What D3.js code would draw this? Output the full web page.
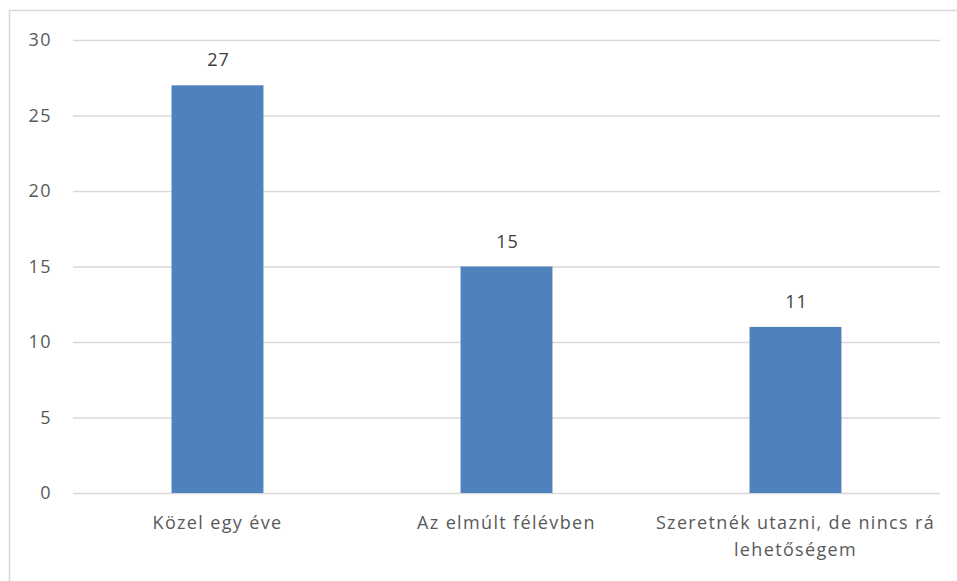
<!DOCTYPE html>
<html>
<head>
<meta charset="utf-8">
<script src="https://cdn.jsdelivr.net/npm/d3@7"></script>
<style>
  body { margin: 0; background: #fff; }
  text { font-family: "Open Sans", Lato, sans-serif; }
</style>
</head>
<body>
<script>
// Chart data
var categories = ["Közel egy éve", "Az elmúlt félévben", "Szeretnék utazni, de nincs rá lehetőségem"];
var categoryLines = [["Közel egy éve"], ["Az elmúlt félévben"], ["Szeretnék utazni, de nincs rá", "lehetőségem"]];
var values = [27, 15, 11];
var yTicks = [0, 5, 10, 15, 20, 25, 30];

var width = 957, height = 581;
var plot = { left: 73, right: 940, top: 40, bottom: 493 };

var svg = d3.select("body").append("svg")
  .attr("width", width)
  .attr("height", height);

// Chart border (runs off the bottom and right of the picture)
svg.append("rect")
  .attr("x", 9.5)
  .attr("y", 10.5)
  .attr("width", 980)
  .attr("height", 600)
  .attr("fill", "none")
  .attr("stroke", "#d9d9d9")
  .attr("stroke-width", 1.5);

var x = d3.scaleBand()
  .domain(categories)
  .range([plot.left, plot.right])
  .paddingInner(0.682)
  .paddingOuter(0.341);

var y = d3.scaleLinear()
  .domain([0, 30])
  .range([plot.bottom, plot.top]);

// Gridlines
svg.append("g")
  .selectAll("line")
  .data(yTicks)
  .join("line")
  .attr("x1", plot.left)
  .attr("x2", plot.right)
  .attr("y1", function(d) { return y(d) + 0.5; })
  .attr("y2", function(d) { return y(d) + 0.5; })
  .attr("stroke", "#d9d9d9")
  .attr("stroke-width", 1.3);

// Y axis labels
var yAxis = d3.axisLeft(y).tickValues(yTicks).tickSize(0).tickPadding(0);
var gy = svg.append("g")
  .attr("transform", "translate(" + (plot.left - 21) + ",0)")
  .call(yAxis);
gy.select(".domain").remove();
gy.selectAll("text")
  .attr("fill", "#595959")
  .style("font-size", "18px")
  .style("letter-spacing", "1.5px")
  .style("font-family", "'Open Sans', Lato, sans-serif");

// Bars
svg.append("g")
  .selectAll("rect")
  .data(values)
  .join("rect")
  .attr("x", function(d, i) { return x(categories[i]); })
  .attr("y", function(d) { return y(d); })
  .attr("width", x.bandwidth())
  .attr("height", function(d) { return y(0) - y(d); })
  .attr("fill", "#4f81bd");

// Value labels
svg.append("g")
  .selectAll("text")
  .data(values)
  .join("text")
  .attr("x", function(d, i) { return x(categories[i]) + x.bandwidth() / 2 + 1; })
  .attr("y", function(d) { return y(d) - 19; })
  .attr("text-anchor", "middle")
  .attr("fill", "#404040")
  .style("font-size", "18px")
  .style("letter-spacing", "1px")
  .text(function(d) { return d; });

// Category labels
var xg = svg.append("g");
categories.forEach(function(c, i) {
  var t = xg.append("text")
    .attr("x", x(c) + x.bandwidth() / 2)
    .attr("y", plot.bottom + 36)
    .attr("text-anchor", "middle")
    .attr("fill", "#595959")
    .style("font-size", "18px")
    .style("letter-spacing", "1.35px");
  categoryLines[i].forEach(function(line, j) {
    t.append("tspan")
      .attr("x", x(c) + x.bandwidth() / 2)
      .attr("dy", j === 0 ? 0 : 27)
      .text(line);
  });
});
</script>
</body>
</html>
